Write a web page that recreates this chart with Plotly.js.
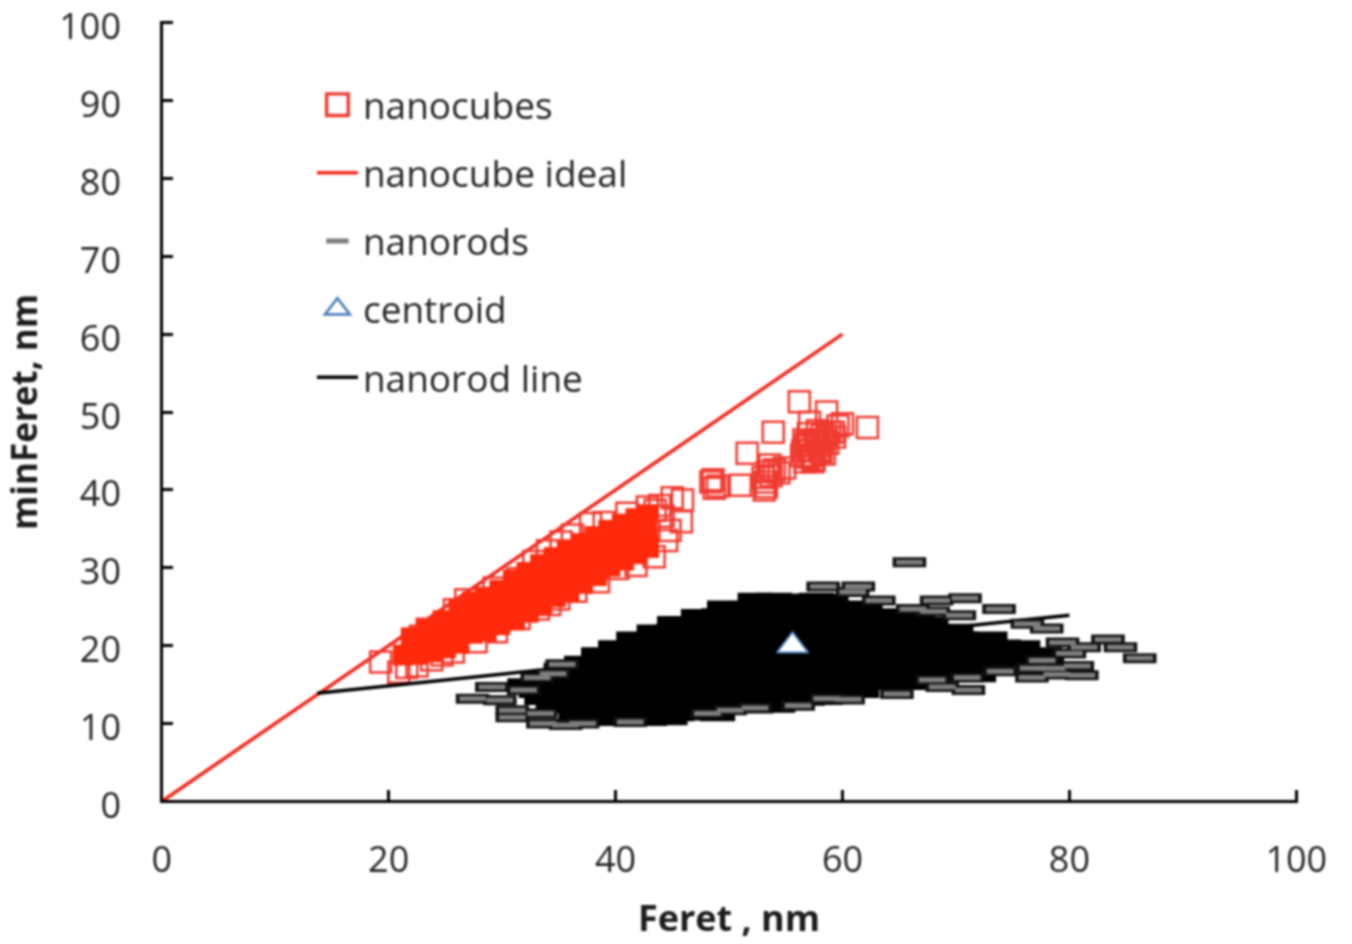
<!DOCTYPE html>
<html><head><meta charset="utf-8">
<script src="https://cdn.plot.ly/plotly-3.0.1.min.js"></script>
<style>html,body{margin:0;padding:0;background:#fff}#g{width:1352px;height:944px;filter:blur(0.8px)}</style>
</head><body><div id="g"></div>
<script>
const tickVals = {x:[0,20,40,60,80,100], y:[0,10,20,30,40,50,60,70,80,90,100]};

const idealX = [0,60], idealY = [0,60];
const rodLineX = [13.7,80], rodLineY = [13.9,23.9];
const centroidX = [55.6], centroidY = [20];

const cubeOpenX = [19.3,20.9,21.6,22.8,23.4,25.8,26.8,29.3,31.4,32.8,34.0,35.2,36.2,37.8,39.0,41.0,42.8,43.5,43.9,45.0,45.9,45.8,44.8,44.2,44.5,43.4,41.8,40.2,38.5,36.5,35.0,33.2,31.5,29.5,27.7,25.7,23.8,22.5,24.7,34.2,
 56.2,58.6,62.2,60.0,53.9,51.6,57.1,48.6,48.7,51.0,53.1,53.2,53.4,53.6,54.9,56.7,56.5,56.9,57.3,57.8,58.2,58.7,59.2,59.6,57.0,57.5,58.1,58.6,56.8,
 57.2,57.6,58.0,58.4,57.0,57.8,56.6,56.4,58.9,59.3,57.4,58.4,56.9,57.9,53.3,53.0,53.7,54.0,54.4,49.0,48.4];
const cubeOpenY = [17.9,16.6,17.2,21.2,22.1,24.6,25.9,27.4,28.6,30.8,32.2,33.3,34.2,35.7,35.8,37.0,37.8,37.4,38.0,39.0,38.7,35.9,34.8,36.6,33.5,31.4,30.3,29.9,28.2,27.0,26.0,24.7,23.5,21.8,20.5,19.2,18.2,17.4,18.8,25.3,
 51.3,50.0,48.0,48.5,47.4,44.7,48.7,41.3,40.2,40.6,40.0,41.0,42.3,43.2,42.8,43.6,45.0,46.2,44.4,45.6,47.0,46.0,47.4,48.2,47.2,43.9,44.9,46.9,45.8,
 45.2,46.4,45.2,46.4,44.2,47.6,46.4,44.4,47.4,46.8,43.6,44.6,45.6,46.4,40.4,41.6,41.8,42.6,42.2,40.5,41.0];

const cubeFillX = [21.3,22.4,22.6,23.6,23.8,24.8,25.0,26.0,26.2,26.1,27.2,27.4,27.3,28.4,28.5,28.6,29.6,29.7,29.8,30.8,31.0,31.1,32.0,32.2,32.3,33.2,33.4,33.5,34.4,34.6,34.7,35.6,35.8,35.9,36.8,37.0,37.1,38.0,38.2,38.3,39.2,39.4,39.5,40.4,40.6,40.7,41.6,41.8,41.9,42.6,42.8,42.9,
 22.0,23.4,24.8,26.2,27.4,28.6,29.8,31.0,32.2,33.4,34.6,35.8,37.0,38.2,39.4,40.6,41.8,42.8];
const cubeFillY = [18.8,19.5,18.9,20.2,19.2,21.4,19.7,22.6,20.3,21.4,23.9,21.6,22.7,25.2,23.0,21.9,25.9,23.9,22.7,26.4,24.4,23.3,27.4,25.4,24.3,28.8,26.6,25.4,29.9,27.8,26.3,30.5,28.4,27.0,31.7,29.6,28.0,32.6,30.6,29.0,33.7,31.6,30.2,34.6,32.6,31.0,35.2,33.2,31.8,35.7,33.8,32.6,
 21.0,22.0,23.2,24.6,25.6,26.2,27.1,28.4,29.4,30.4,31.3,32.3,33.1,34.0,34.8,35.6,36.3,36.8];

const rodEdgeX = [65.9,58.3,61.4,60.9,63.2,68.3,70.8,73.8,66.2,68.0,70.3,76.3,78.0,79.4,83.4,84.5,86.2,81.3,80.0,77.6,80.7,81.1,78.9,76.7,76.8,78.5,73.9,71.0,71.1,68.8,67.9,64.8,60.5,58.6,56.1,35.3,33.1,34.5,29.1,27.4,29.8,30.9,30.9,33.6,35.6,31.9,41.3,48.1,52.3,50.1,37.1,33.4];
const rodEdgeY = [30.7,27.6,27.6,26.9,25.8,25.8,26.1,24.7,24.7,24.4,23.9,22.8,22.2,20.4,20.8,19.8,18.4,19.8,19.0,18.1,17.4,16.2,16.3,15.9,17.1,17.1,16.7,15.9,14.3,14.7,15.6,13.8,13.1,13.2,12.3,17.6,15.9,16.4,14.7,13.2,13.0,11.7,10.8,10.0,9.8,14.3,10.2,11.3,12.0,11.7,10.0,11.3];

const rodCoreX = [
 52.3,54.0,55.9,57.7,59.0,
 49.6,51.4,53.3,55.0,56.8,58.7,60.5,62.0,
 47.3,49.1,50.8,52.7,54.4,56.3,58.1,59.8,61.7,63.4,65.0,
 45.2,47.0,48.8,50.5,52.4,54.1,56.0,57.7,59.5,61.3,63.0,64.9,66.6,67.8,
 43.4,45.1,47.0,48.7,50.6,52.3,54.2,55.9,57.8,59.5,61.4,63.1,65.0,66.7,68.5,70.0,
 41.6,43.3,45.2,46.9,48.8,50.5,52.4,54.1,56.0,57.7,59.6,61.3,63.2,64.9,66.8,68.5,70.4,72.1,73.0,
 40.0,41.8,43.5,45.4,47.1,49.0,50.7,52.6,54.3,56.2,57.9,59.8,61.5,63.4,65.1,67.0,68.7,70.6,72.3,74.2,75.9,
 38.5,40.2,42.1,43.8,45.7,47.4,49.3,51.0,52.9,54.6,56.5,58.2,60.1,61.8,63.7,65.4,67.3,69.0,70.9,72.6,74.5,76.2,77.8,
 37.0,38.8,40.5,42.4,44.1,46.0,47.7,49.6,51.3,53.2,54.9,56.8,58.5,60.4,62.1,64.0,65.7,67.6,69.3,71.2,72.9,74.8,76.5,78.0,
 35.2,37.0,38.7,40.6,42.3,44.2,45.9,47.8,49.5,51.4,53.1,55.0,56.7,58.6,60.3,62.2,63.9,65.8,67.5,69.4,71.1,73.0,74.7,
 33.4,35.2,36.9,38.8,40.5,42.4,44.1,46.0,47.7,49.6,51.3,53.2,54.9,56.8,58.5,60.4,62.1,64.0,65.7,67.6,69.3,71.2,72.0,
 32.0,33.8,35.5,37.4,39.1,41.0,42.7,44.6,46.3,48.2,49.9,51.8,53.5,55.4,57.1,59.0,60.7,62.6,64.3,66.2,67.6,
 33.0,34.8,36.5,38.4,40.1,42.0,43.7,45.6,47.3,49.2,50.9,52.8,54.5,56.4,58.1,60.0,61.7,
 33.5,35.3,37.0,38.9,40.6,42.5,44.2,46.1,47.8,49.7,51.4,53.3,55.0,56.9,58.5,
 34.5,36.3,38.0,39.9,41.6,43.5,45.2,47.1,48.8,50.7,52.4,54.3,
 36.5,38.2,40.1,41.8,43.7,45.4,47.3,49.0,
 37.5,39.3,41.2,43.0,44.8];
const rodCoreY = [
 26.1,26.1,26.0,26.1,26.0,
 25.1,25.0,25.1,25.0,25.1,25.0,25.1,25.0,
 24.0,24.1,24.0,24.1,24.0,24.1,24.0,24.1,24.0,24.1,24.0,
 23.1,23.0,23.1,23.0,23.1,23.0,23.1,23.0,23.1,23.0,23.1,23.0,23.1,23.0,
 22.0,22.1,22.0,22.1,22.0,22.1,22.0,22.1,22.0,22.1,22.0,22.1,22.0,22.1,22.0,22.1,
 21.1,21.0,21.1,21.0,21.1,21.0,21.1,21.0,21.1,21.0,21.1,21.0,21.1,21.0,21.1,21.0,21.1,21.0,21.1,
 20.0,20.1,20.0,20.1,20.0,20.1,20.0,20.1,20.0,20.1,20.0,20.1,20.0,20.1,20.0,20.1,20.0,20.1,20.0,20.1,20.0,
 19.1,19.0,19.1,19.0,19.1,19.0,19.1,19.0,19.1,19.0,19.1,19.0,19.1,19.0,19.1,19.0,19.1,19.0,19.1,19.0,19.1,19.0,19.1,
 18.0,18.1,18.0,18.1,18.0,18.1,18.0,18.1,18.0,18.1,18.0,18.1,18.0,18.1,18.0,18.1,18.0,18.1,18.0,18.1,18.0,18.1,18.0,18.1,
 17.1,17.0,17.1,17.0,17.1,17.0,17.1,17.0,17.1,17.0,17.1,17.0,17.1,17.0,17.1,17.0,17.1,17.0,17.1,17.0,17.1,17.0,17.1,
 16.0,16.1,16.0,16.1,16.0,16.1,16.0,16.1,16.0,16.1,16.0,16.1,16.0,16.1,16.0,16.1,16.0,16.1,16.0,16.1,16.0,16.1,16.0,
 15.1,15.0,15.1,15.0,15.1,15.0,15.1,15.0,15.1,15.0,15.1,15.0,15.1,15.0,15.1,15.0,15.1,15.0,15.1,15.0,15.1,
 14.0,14.1,14.0,14.1,14.0,14.1,14.0,14.1,14.0,14.1,14.0,14.1,14.0,14.1,14.0,14.1,14.0,
 13.1,13.0,13.1,13.0,13.1,13.0,13.1,13.0,13.1,13.0,13.1,13.0,13.1,13.0,13.1,
 12.0,12.1,12.0,12.1,12.0,12.1,12.0,12.1,12.0,12.1,12.0,12.1,
 11.1,11.0,11.1,11.0,11.1,11.0,11.1,11.0,
 10.4,10.4,10.5,10.4,10.5];

const RED='#f03a30', FILLRED='#ff2a0c', FONT='"Open Sans", sans-serif', INK='#252525', TITLE='#1c1c1c';

const data = [
 {name:'nanocube ideal',x:idealX,y:idealY,mode:'lines',line:{color:'#f4281c',width:3.5},legendgroup:'b',legendrank:2},
 {name:'nanocubes',x:cubeOpenX,y:cubeOpenY,mode:'markers',legendgroup:'a',legendrank:1,
  marker:{symbol:'square-open',size:21,color:RED,line:{color:RED,width:2.5}}},
 {name:'nanocubes fill',x:cubeFillX,y:cubeFillY,mode:'markers',showlegend:false,
  marker:{symbol:'square',size:21,color:FILLRED,line:{width:0}}},
 {name:'nanorod line',x:rodLineX,y:rodLineY,mode:'lines',line:{color:'#000',width:3.5},legendgroup:'e',legendrank:5},
 {name:'nanorods core',x:rodCoreX,y:rodCoreY,mode:'markers',showlegend:false,
  marker:{symbol:'line-ew',size:25,line:{color:'#000',width:11}}},
 {name:'nanorods outline',x:rodEdgeX,y:rodEdgeY,mode:'markers',showlegend:false,
  marker:{symbol:'line-ew',size:24,line:{color:'#111',width:10}}},
 {name:'nanorods',x:rodEdgeX,y:rodEdgeY,mode:'markers',legendgroup:'c',legendrank:3,
  marker:{symbol:'line-ew',size:19,line:{color:'#7d7d7d',width:5}}},
 {name:'centroid',x:centroidX,y:centroidY,mode:'markers',legendgroup:'d',legendrank:4,
  marker:{symbol:'triangle-up',size:27,color:'#fff',line:{color:'#4f81bd',width:2}}}
];

const axisBase = {showgrid:false,zeroline:true,zerolinecolor:'#000',zerolinewidth:3,showline:false,
  ticks:'inside',ticklen:13,tickwidth:3,tickcolor:'#000',tickmode:'array',ticklabeloverflow:'allow',
  tickfont:{family:FONT,size:36,color:INK}};

const layout = {
 width:1352,height:944,paper_bgcolor:'#fff',plot_bgcolor:'#fff',
 margin:{l:159.8,r:54.3,t:21.44,b:141.44,pad:0},
 font:{family:FONT},
 xaxis:Object.assign({},axisBase,{range:[-0.15,100.15],tickvals:tickVals.x,ticklabelstandoff:32,
   title:{text:'Feret , nm',standoff:23,font:{family:FONT,size:36,color:TITLE,weight:'bold'}}}),
 yaxis:Object.assign({},axisBase,{range:[-0.2,100.2],tickvals:tickVals.y,ticklabelstandoff:38,ticklabelshift:4,
   title:{text:'minFeret, nm',standoff:14,font:{family:FONT,size:35,color:TITLE,weight:'bold'}}}),
 showlegend:true,
 legend:{x:0.1335,y:0.932,xanchor:'left',yanchor:'top',bgcolor:'rgba(0,0,0,0)',borderwidth:0,
   itemwidth:41,traceorder:'grouped',tracegroupgap:17,font:{family:FONT,size:37,color:INK}}
};
Plotly.newPlot('g',data,layout,{displayModeBar:false,responsive:false}).then(function(gd){
  // The legend caps marker size; enlarge the two keys that are larger in the reference.
  gd.querySelectorAll('.legend .traces').forEach(function(t){
    var label=t.querySelector('.legendtext');
    if(!label) return;
    var n=label.textContent;
    if(n==='nanocubes'||n==='centroid'){
      t.querySelectorAll('.scatterpts').forEach(function(p){
        p.setAttribute('transform',(p.getAttribute('transform')||'')+' scale(1.35)');
      });
    }
  });
});
</script></body></html>
